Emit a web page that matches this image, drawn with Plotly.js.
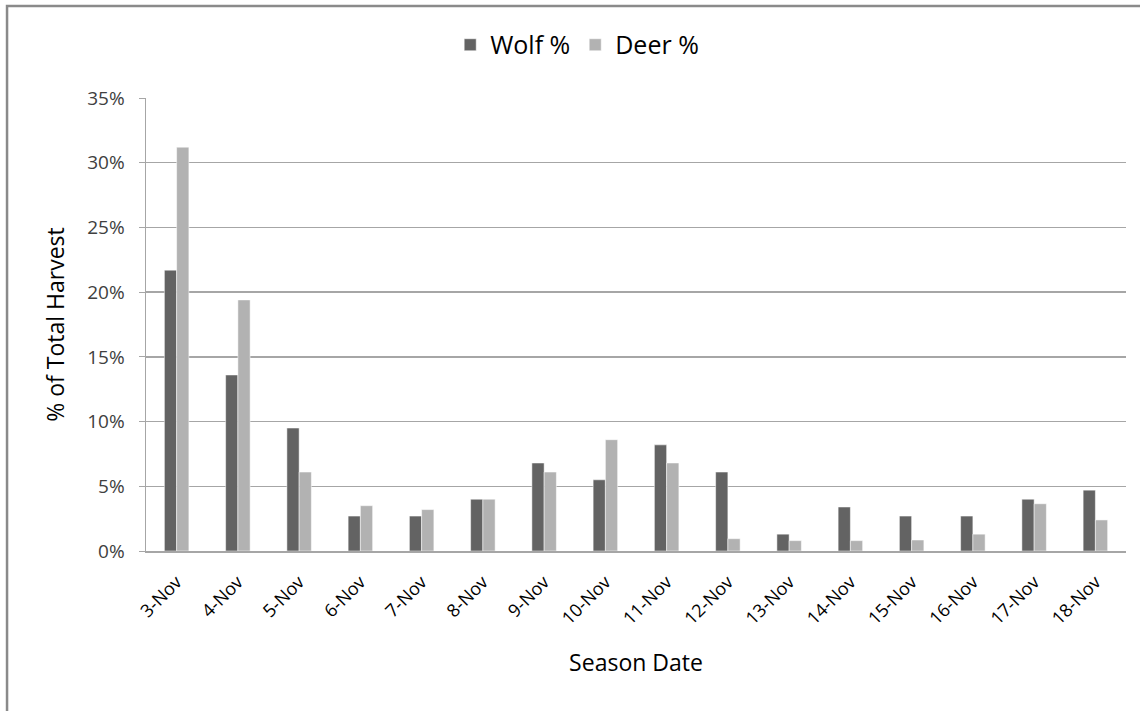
<!DOCTYPE html>
<html>
<head>
<meta charset="utf-8">
<script src="https://cdn.plot.ly/plotly-3.0.1.min.js"></script>
<style>
html,body{margin:0;padding:0;background:#fff;}
#chart{width:1140px;height:711px;}
</style>
</head>
<body>
<div id="chart"></div>
<script>
const categories = ["3-Nov","4-Nov","5-Nov","6-Nov","7-Nov","8-Nov","9-Nov","10-Nov","11-Nov","12-Nov","13-Nov","14-Nov","15-Nov","16-Nov","17-Nov","18-Nov"];
const wolfPct = [21.7, 13.6, 9.5, 2.7, 2.7, 4.0, 6.8, 5.5, 8.2, 6.1, 1.3, 3.4, 2.7, 2.7, 4.0, 4.7];
const deerPct = [31.2, 19.4, 6.1, 3.5, 3.2, 4.0, 6.1, 8.6, 6.8, 0.95, 0.8, 0.8, 0.85, 1.3, 3.65, 2.4];
const yTicks = [0, 5, 10, 15, 20, 25, 30, 35];
const yTickLabels = ["0%", "5%", "10%", "15%", "20%", "25%", "30%", "35%"];

const FONT = '"Open Sans", "Segoe UI", sans-serif';
const traces = [
  {type:'bar', name:'Wolf %', x:categories, y:wolfPct, marker:{color:'#636363', line:{color:'#ffffff', width:0.5}}},
  {type:'bar', name:'Deer %', x:categories, y:deerPct, marker:{color:'#b2b2b2', line:{color:'#ffffff', width:0.5}}}
];
const layout = {
  width:1140, height:711,
  margin:{l:146, r:14, t:98, b:160},
  paper_bgcolor:'#ffffff', plot_bgcolor:'#ffffff',
  barmode:'group', bargap:0.6, bargroupgap:0,
  font:{family:FONT, color:'#404040'},
  showlegend:true,
  legend:{orientation:'h', x:0.44, xanchor:'center', y:1.117, yanchor:'middle',
          font:{size:25, color:'#000000', family:FONT}, itemwidth:30, traceorder:'normal'},
  xaxis:{type:'category', tickangle:-45, tickfont:{size:18, color:'#000000'}, ticklabelstandoff:12,
         showline:true, linecolor:'#a6a6a6', linewidth:1.5, ticks:'', showgrid:false,
         title:{text:'Season Date', font:{size:23, color:'#000000'}, standoff:26}},
  yaxis:{range:[0,35], tickvals:yTicks, ticktext:yTickLabels, tickfont:{size:19, color:'#404040'}, ticklabelstandoff:10,
         showgrid:true, gridcolor:'#a6a6a6', gridwidth:1.5, zeroline:false,
         showline:true, linecolor:'#a6a6a6', linewidth:1.5, ticks:'outside', ticklen:6, tickcolor:'#a6a6a6',
         title:{text:'% of Total Harvest', font:{size:23, color:'#000000'}, standoff:16}},
  shapes:[
    {type:'path', xref:'paper', yref:'paper', path:'M -0.1418,-0.5 L -0.1418,1.2029 L 1.2,1.2029',
     line:{color:'#8a8a8a', width:2.5}}
  ]
};
Plotly.newPlot('chart', traces, layout, {displayModeBar:false, staticPlot:true});
</script>
</body>
</html>
